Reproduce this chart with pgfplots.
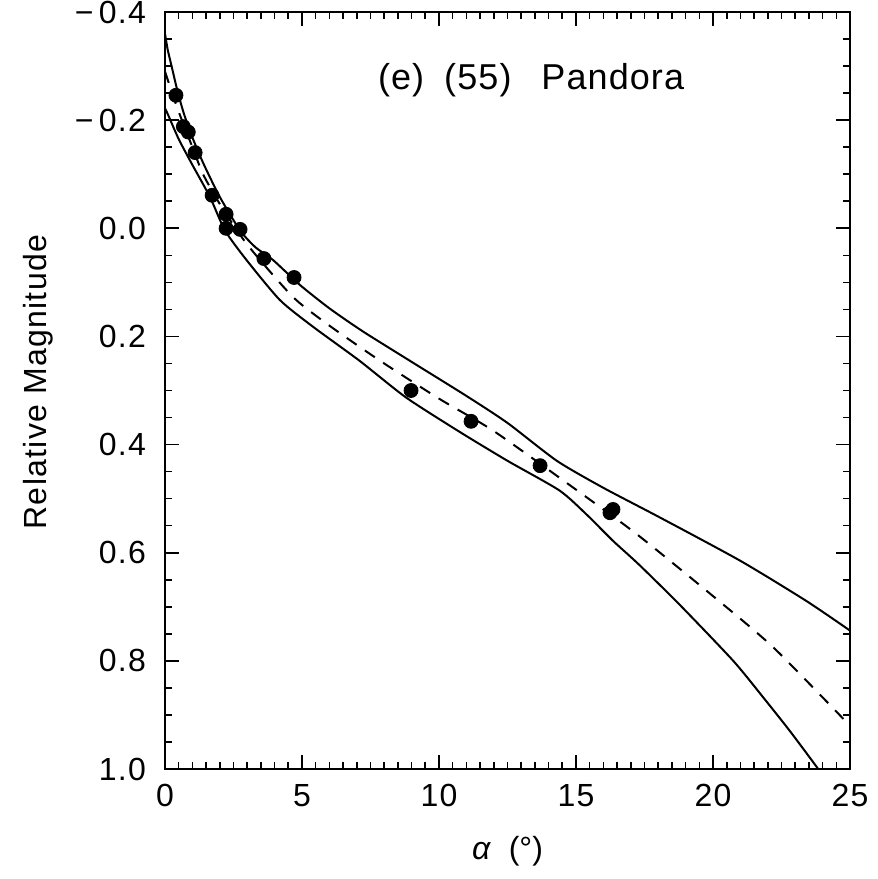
\documentclass[border=0pt]{standalone}
\usepackage{fontspec}
\setmainfont{Liberation Sans}
\usepackage{pgfplots}
\pgfplotsset{compat=1.18}
\begin{document}
\begin{tikzpicture}
\begin{axis}[
  width=342.5pt, height=378.5pt, scale only axis,
  xmin=0, xmax=25, ymin=-0.4, ymax=1.0, y dir=reverse,
  xtick={0,5,10,15,20,25}, minor x tick num=9,
  ytick={-0.4,-0.2,0,0.2,0.4,0.6,0.8,1.0},
  yticklabels={−\,0.4,−\,0.2,0.0,0.2,0.4,0.6,0.8,1.0},
  minor y tick num=3,
  tick align=inside, major tick length=7pt, minor tick length=3.5pt,
  tick style={line width=0.8pt, black},
  axis line style={line width=1pt},
  font=\fontsize{16}{19}\selectfont,
  ticklabel style={font=\fontsize{16}{19}\selectfont\addfontfeature{LetterSpace=4}},
  /pgf/number format/assume math mode=true,
  xticklabel style={yshift=-4pt},
  yticklabel style={xshift=-6pt},
  xlabel={\textit{α}\ \ (°)},
  ylabel={\addfontfeature{LetterSpace=4}Relative Magnitude},
  xlabel style={at={(axis description cs:0.5,-0.108)}, anchor=center},
  ylabel style={at={(axis description cs:-0.1854,0.511)}, anchor=center},
  clip=true,
]
% upper envelope
\addplot[black, line width=1pt, smooth, tension=0.4] coordinates {
(0,-0.36) (0.1,-0.33) (0.24,-0.30) (0.45,-0.255) (0.69,-0.212) (1.0,-0.168)
(1.4,-0.12) (2.0,-0.058) (2.74,0.004) (3.3,0.035) (3.95,0.059) (4.93,0.105)
(6,0.148) (7.2,0.19) (9,0.247) (11,0.31) (12.5,0.36) (14.3,0.43) (16,0.48)
(18.07,0.535) (21,0.615) (23.4,0.689) (25,0.744)};
% lower envelope
\addplot[black, line width=1pt, smooth, tension=0.4] coordinates {
(0,-0.222) (0.12,-0.209) (0.5,-0.165) (0.97,-0.12) (1.64,-0.058) (2.19,0.004)
(2.98,0.059) (4.2,0.133) (5.4,0.182) (7.1,0.245) (8.8,0.313) (10.77,0.377)
(12.5,0.43) (14.4,0.485) (15.4,0.53) (16.35,0.578) (17.3,0.622) (18.8,0.697)
(20.74,0.80) (21.84,0.868) (22.81,0.93) (23.84,1.0) (24.1,1.02)};
% best fit
\addplot[black, line width=1pt, smooth, tension=0.4, dash pattern=on 6pt off 5pt] coordinates {
(0,-0.29) (0.43,-0.225) (1.0,-0.15) (1.39,-0.10) (2.0,-0.045) (3.0,0.03)
(4.67,0.127) (6,0.18) (7.85,0.245) (10,0.315) (12,0.375) (14.8,0.476)
(17.2,0.565) (19.9,0.676) (22.2,0.775) (25,0.92)};
% observations
\addplot[only marks, mark=*, mark size=3.5pt, black] coordinates {
(0.40,-0.246) (0.67,-0.188) (0.85,-0.178) (1.10,-0.140) (1.72,-0.061)
(2.23,-0.026) (2.23,0.000) (2.74,0.002) (3.61,0.056) (4.71,0.091)
(8.98,0.300) (11.17,0.357) (13.69,0.439) (16.24,0.526) (16.35,0.520)};
\node[anchor=west] at (axis cs:7.52,-0.274) {\fontsize{18}{21}\selectfont\addfontfeature{LetterSpace=3}(e)\hspace{10pt}(55)\hspace{15pt}Pandora};
\end{axis}
\pgfresetboundingbox
\path (current axis.south west) ++(-82.5pt,-55pt) coordinate (bl);
\path (current axis.north east) ++(14pt,6pt) coordinate (tr);
\path[use as bounding box] (bl) rectangle (tr);
\end{tikzpicture}
\end{document}
